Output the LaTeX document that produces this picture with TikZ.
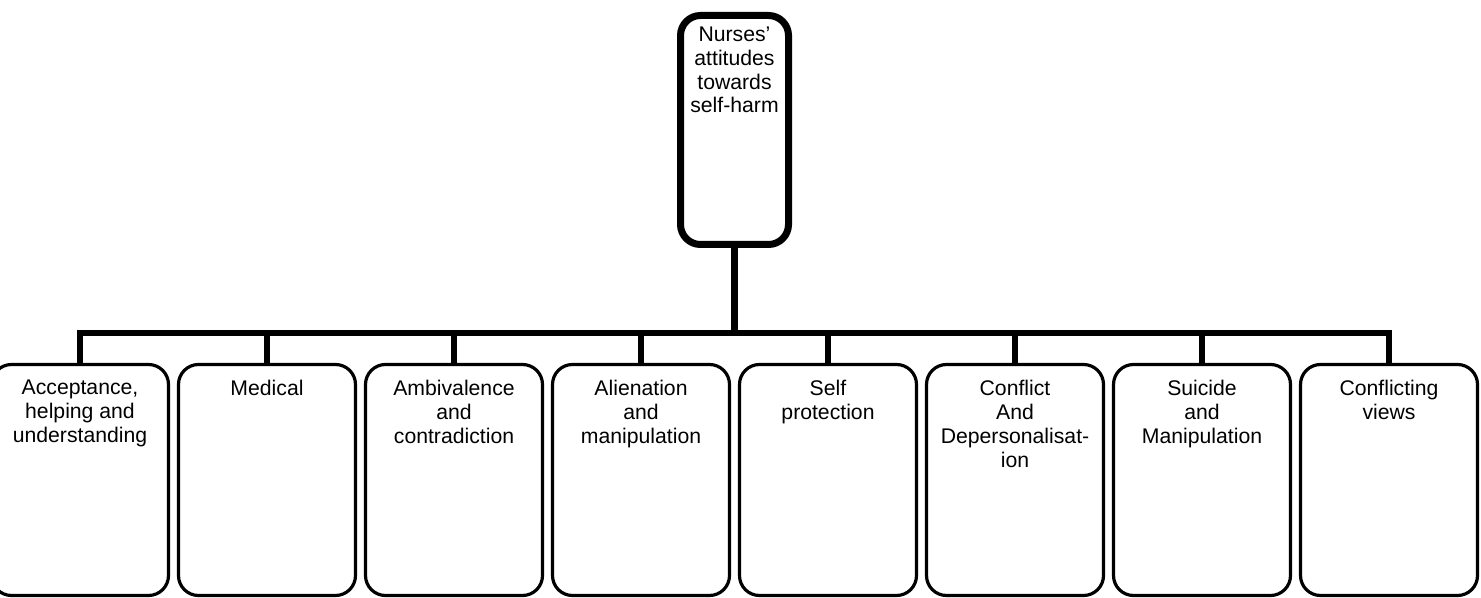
\documentclass[tikz,border=0pt]{standalone}
\usepackage{fontspec}
\setmainfont{Liberation Sans}
\usetikzlibrary{positioning}

\begin{document}
\begin{tikzpicture}[x=0.5pt,y=-0.5pt,
  topbox/.style={draw,line width=3.5pt,rounded corners=10pt,inner sep=0pt,outer sep=0pt,
    minimum width=54pt,minimum height=114.5pt,font=\fontsize{10.6}{11.9}\selectfont,
    execute at begin node={\begin{minipage}[t][103pt][t]{52pt}\centering},
    execute at end node={\end{minipage}}},
  subbox/.style={draw,line width=1.6pt,rounded corners=10pt,inner sep=0pt,outer sep=0pt,
    minimum width=88.5pt,minimum height=115.5pt,font=\fontsize{10.6}{12}\selectfont,
    execute at begin node={\begin{minipage}[t][100pt][t]{86pt}\centering},
    execute at end node={\end{minipage}}},
  node distance=5pt]

\useasboundingbox (0,0) rectangle (1481,598);

\node[topbox] (top) at (734.5,130) {Nurses’\\attitudes\\towards\\self-harm};

\node[subbox] (accept) at (80,480) {Acceptance,\\helping and\\understanding};
\node[subbox,right=of accept] (medical) {Medical};
\node[subbox,right=of medical] (ambiv) {Ambivalence\\and\\contradiction};
\node[subbox,right=of ambiv] (alien) {Alienation\\and\\manipulation};
\node[subbox,right=of alien] (selfprot) {Self\\protection};
\node[subbox,right=of selfprot] (conflict) {Conflict\\And\\Depersonalisat-\\ion};
\node[subbox,right=of conflict] (suicide) {Suicide\\and\\Manipulation};
\node[subbox,right=of suicide] (views) {Conflicting\\views};

\coordinate (bus) at (734.5,333);

\draw[line width=3.5pt] (top.south)--(bus);
\draw[line width=2.75pt] (accept.north) |- (views.north |- bus)--(views.north);
\draw[line width=2.75pt] (medical.north |- bus)--(medical.north);
\draw[line width=2.75pt] (ambiv.north |- bus)--(ambiv.north);
\draw[line width=2.75pt] (alien.north |- bus)--(alien.north);
\draw[line width=2.75pt] (selfprot.north |- bus)--(selfprot.north);
\draw[line width=2.75pt] (conflict.north |- bus)--(conflict.north);
\draw[line width=2.75pt] (suicide.north |- bus)--(suicide.north);

\end{tikzpicture}
\end{document}
